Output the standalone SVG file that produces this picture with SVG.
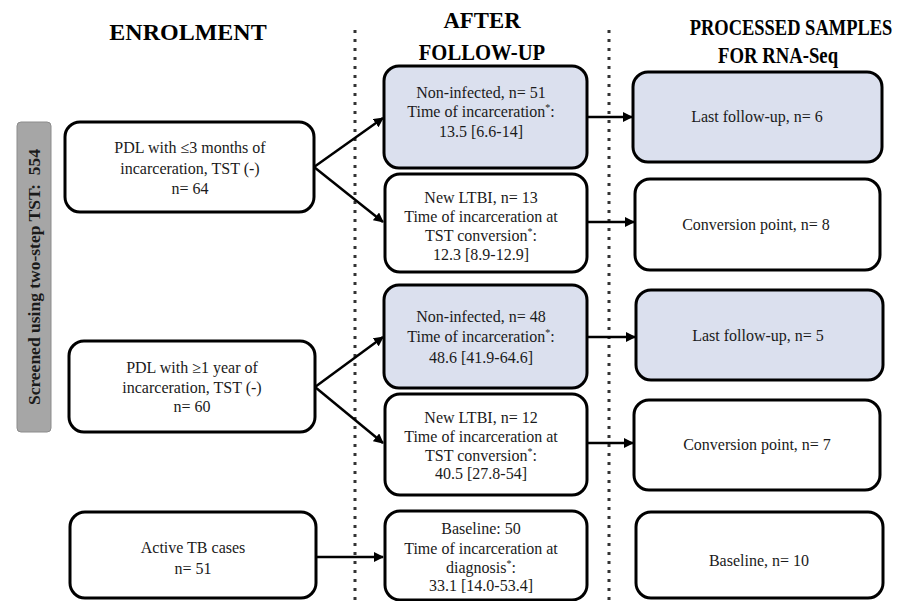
<svg xmlns="http://www.w3.org/2000/svg" width="906" height="601" viewBox="0 0 906 601">
<style>
.box{fill:#fff;stroke:#000;stroke-width:3}
.blue{fill:#dbe0ee}
.t{font-family:'Liberation Serif','Times New Roman','Nimbus Roman','DejaVu Serif',serif;font-size:16px;fill:#1a1a1a;text-anchor:middle}
.h{font-family:'Liberation Serif','Times New Roman','Nimbus Roman','DejaVu Serif',serif;font-size:24px;font-weight:bold;fill:#000;text-anchor:middle}
.v{font-family:'Liberation Serif','Times New Roman','Nimbus Roman','DejaVu Serif',serif;font-size:17.5px;font-weight:bold;fill:#1a1a1a;text-anchor:middle}
.c{fill:none;stroke:#000;stroke-width:2.5}
.dot{stroke:#333;stroke-width:3;stroke-dasharray:3 6}
.sup{font-size:10px}
</style>
<defs>
<marker id="ah" viewBox="0 0 10 10" refX="9" refY="5" markerWidth="4" markerHeight="4" orient="auto" markerUnits="strokeWidth">
<path d="M0,0 L10,5 L0,10 z" fill="#000"/>
</marker>
</defs>
<rect width="906" height="601" fill="#fff"/>
<g id="dividers">
<line class="dot" x1="355" y1="30" x2="355" y2="601"/>
<line class="dot" x1="609" y1="30" x2="609" y2="601"/>
</g>
<g id="headers">
<text class="h" transform="translate(188,40) scale(1.0,1)">ENROLMENT</text>
<text class="h" transform="translate(482,28) scale(0.95,1)">AFTER</text>
<text class="h" transform="translate(482,60) scale(0.86,1)">FOLLOW-UP</text>
<text class="h" transform="translate(791,35) scale(0.77,1)">PROCESSED SAMPLES</text>
<text class="h" transform="translate(778,63) scale(0.78,1)">FOR RNA-Seq</text>
</g>
<g id="screened">
<rect x="17" y="122" width="34" height="310" rx="4" fill="#a6a6a6" stroke="#8c8c8c" stroke-width="1"/>
<text class="v" transform="translate(40,277) rotate(-90)" xml:space="preserve">Screened using two-step TST:  554</text>
</g>
<g id="enrol1">
<rect class="box" x="65" y="122" width="249" height="90" rx="15"/>
<text class="t" x="190" y="153">PDL with ≤3 months of</text>
<text class="t" x="190" y="174">incarceration, TST (-)</text>
<text class="t" x="190" y="194">n= 64</text>
</g>
<g id="enrol2">
<rect class="box" x="69" y="341" width="246" height="91" rx="15"/>
<text class="t" x="192" y="373">PDL with ≥1 year of</text>
<text class="t" x="192" y="393">incarceration, TST (-)</text>
<text class="t" x="192" y="412">n= 60</text>
</g>
<g id="enrol3">
<rect class="box" x="70" y="512" width="246" height="86" rx="15"/>
<text class="t" x="193" y="553">Active TB cases</text>
<text class="t" x="193" y="574">n= 51</text>
</g>
<g id="fu1">
<rect class="box blue" x="384" y="66" width="203" height="102" rx="15"/>
<text class="t" x="481" y="98">Non-infected, n= 51</text>
<text class="t" x="481" y="117">Time of incarceration<tspan class="sup" dy="-6">*</tspan><tspan dy="6">:</tspan></text>
<text class="t" x="481" y="137">13.5 [6.6-14]</text>
</g>
<g id="fu2">
<rect class="box" x="385" y="174" width="202" height="98" rx="15"/>
<text class="t" x="481" y="203">New LTBI, n= 13</text>
<text class="t" x="481" y="222">Time of incarceration at</text>
<text class="t" x="481" y="241">TST conversion<tspan class="sup" dy="-6">*</tspan><tspan dy="6">:</tspan></text>
<text class="t" x="481" y="260">12.3 [8.9-12.9]</text>
</g>
<g id="fu3">
<rect class="box blue" x="384" y="285" width="203" height="103" rx="15"/>
<text class="t" x="481" y="322">Non-infected, n= 48</text>
<text class="t" x="481" y="342">Time of incarceration<tspan class="sup" dy="-6">*</tspan><tspan dy="6">:</tspan></text>
<text class="t" x="481" y="363">48.6 [41.9-64.6]</text>
</g>
<g id="fu4">
<rect class="box" x="385" y="394" width="202" height="101" rx="15"/>
<text class="t" x="481" y="423">New LTBI, n= 12</text>
<text class="t" x="481" y="442">Time of incarceration at</text>
<text class="t" x="481" y="461">TST conversion<tspan class="sup" dy="-6">*</tspan><tspan dy="6">:</tspan></text>
<text class="t" x="481" y="479">40.5 [27.8-54]</text>
</g>
<g id="fu5">
<rect class="box" x="385" y="511" width="202" height="89" rx="15"/>
<text class="t" x="481" y="534">Baseline: 50</text>
<text class="t" x="481" y="554">Time of incarceration at</text>
<text class="t" x="481" y="573">diagnosis<tspan class="sup" dy="-6">*</tspan><tspan dy="6">:</tspan></text>
<text class="t" x="481" y="591">33.1 [14.0-53.4]</text>
</g>
<g id="rs1">
<rect class="box blue" x="633" y="72" width="249" height="90" rx="15"/>
<text class="t" x="757" y="122">Last follow-up, n= 6</text>
</g>
<g id="rs2">
<rect class="box" x="635" y="179" width="245" height="91" rx="15"/>
<text class="t" x="756" y="230">Conversion point, n= 8</text>
</g>
<g id="rs3">
<rect class="box blue" x="636" y="290" width="247" height="90" rx="15"/>
<text class="t" x="758" y="341">Last follow-up, n= 5</text>
</g>
<g id="rs4">
<rect class="box" x="634" y="400" width="246" height="90" rx="15"/>
<text class="t" x="757" y="450">Conversion point, n= 7</text>
</g>
<g id="rs5">
<rect class="box" x="636" y="512" width="247" height="86" rx="15"/>
<text class="t" x="759" y="566">Baseline, n= 10</text>
</g>
<g id="connectors">
<line class="c" x1="314" y1="167" x2="383" y2="118" marker-end="url(#ah)"/>
<line class="c" x1="314" y1="167" x2="383" y2="222" marker-end="url(#ah)"/>
<line class="c" x1="315" y1="387" x2="383" y2="337" marker-end="url(#ah)"/>
<line class="c" x1="315" y1="387" x2="383" y2="443" marker-end="url(#ah)"/>
<line class="c" x1="316" y1="557" x2="383" y2="557" marker-end="url(#ah)"/>
<line class="c" x1="587" y1="117" x2="632" y2="117" marker-end="url(#ah)"/>
<line class="c" x1="587" y1="222" x2="634" y2="222" marker-end="url(#ah)"/>
<line class="c" x1="587" y1="337" x2="635" y2="337" marker-end="url(#ah)"/>
<line class="c" x1="587" y1="443" x2="633" y2="443" marker-end="url(#ah)"/>
</g>
</svg>
